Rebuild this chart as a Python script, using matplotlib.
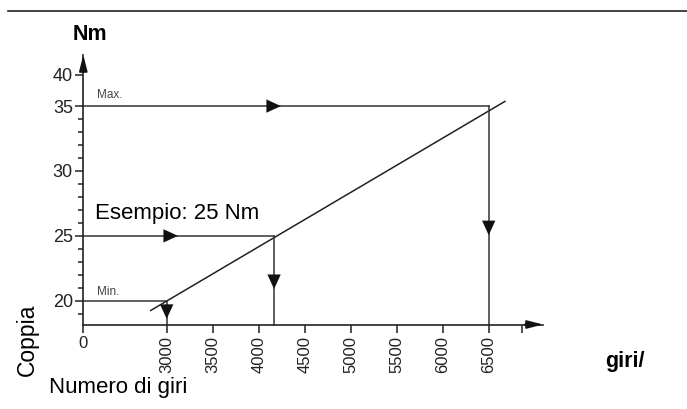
import matplotlib
matplotlib.use("Agg")
import matplotlib.pyplot as plt
import numpy as np
from matplotlib.lines import Line2D

plt.rcParams['font.family'] = ['Liberation Sans', 'DejaVu Sans']

# data
rpm_ticks = [0, 3000, 3500, 4000, 4500, 5000, 5500, 6000, 6500]
rpm_labels = [str(v) for v in rpm_ticks]
extra_tick = 6860
torque_ticks = [20, 25, 30, 35, 40]
torque_minor = [19, 21, 22, 23, 24, 26, 27, 28, 29, 31, 32, 33, 34]

curve_rpm = [2826, 6677]
curve_nm = [19.25, 35.76]

cases = ["Min.", "Esempio", "Max."]
case_nm = [20, 25, 35]
case_rpm = [3000, 4167, 6500]
# where the arrowheads sit on each guide (None = no arrow)
h_arrow_rpm = [None, 3123, 4242]
v_arrow_nm = [18.6, 20.9, 25.05]

W, H = 687, 409
XB, KX = 2800, 0.2523   # x axis is squeezed below XB
YB, KY = 35, 0.48       # y axis is squeezed above YB


def fx(v):
    v = np.asarray(v, float)
    return np.where(v >= XB, v, XB - (XB - v) * KX)


def fx_inv(d):
    d = np.asarray(d, float)
    return np.where(d >= XB, d, XB - (XB - d) / KX)


def fy(v):
    v = np.asarray(v, float)
    return np.where(v <= YB, v, YB + (v - YB) * KY)


def fy_inv(d):
    d = np.asarray(d, float)
    return np.where(d <= YB, d, YB + (d - YB) / KY)


def px(x, y):
    return x / W, 1 - y / H


fig = plt.figure(figsize=(W / 100, H / 100), dpi=100)
left, top, right, bottom = 83.3, 55, 543, 324.5
ax = fig.add_axes([left / W, 1 - bottom / H, (right - left) / W, (bottom - top) / H])
ax.set_xscale('function', functions=(fx, fx_inv))
ax.set_yscale('function', functions=(fy, fy_inv))
ax.set_xlim(0, 7090)
ax.set_ylim(18.17, 43.2)

for s in ['top', 'right']:
    ax.spines[s].set_visible(False)
for s in ['left', 'bottom']:
    ax.spines[s].set_linewidth(1.2)
    ax.spines[s].set_color('#222222')

ax.set_xticks(rpm_ticks + [extra_tick])
ax.set_xticklabels(rpm_labels + [''], fontsize=12)
for lab in ax.get_xticklabels()[1:]:
    lab.set_rotation(90)
ax.xaxis.set_minor_locator(matplotlib.ticker.NullLocator())
ax.set_yticks(torque_ticks)
ax.set_yticklabels([str(v) for v in torque_ticks], fontsize=13)
ax.set_yticks(torque_minor, minor=True)
ax.tick_params(axis='x', which='major', length=6, width=1.1, pad=2, colors='#222222')
ax.tick_params(axis='y', which='major', length=5.5, width=1.1, pad=2, colors='#222222')
ax.tick_params(axis='y', which='minor', length=3.5, width=1.1, color='#222222')

# axis arrows
head = dict(arrowstyle='-|>,head_length=0.7,head_width=0.18', color='#111111',
            lw=1.2, mutation_scale=14, shrinkA=0, shrinkB=0)
ax.annotate('', xy=(1, 0), xycoords='axes fraction', xytext=(0.96, 0), arrowprops=head)
ax.annotate('', xy=(0, 1), xycoords='axes fraction', xytext=(0, 0.94), arrowprops=head)

# characteristic line
ax.plot(curve_rpm, curve_nm, color='#222222', lw=1.1, clip_on=False)

line_kw = dict(color='#333333', lw=1.1, clip_on=False)
arr = dict(arrowstyle='-|>,head_length=0.7,head_width=0.32', color='#111111',
           lw=0, mutation_scale=15, shrinkA=0, shrinkB=0)
y0 = ax.get_ylim()[0]
for name, nm, rpm, ha, va in zip(cases, case_nm, case_rpm, h_arrow_rpm, v_arrow_nm):
    ax.plot([0, rpm], [nm, nm], **line_kw)
    ax.plot([rpm, rpm], [nm, y0], **line_kw)
    if ha is not None:
        ax.annotate('', xy=(ha, nm), xytext=(ha - 200, nm), arrowprops=arr)
    ax.annotate('', xy=(rpm, va), xytext=(rpm, va + 1.5), arrowprops=arr)

# labels
fig.add_artist(Line2D([8 / W, 1], [1 - 11 / H, 1 - 11 / H], color='#222222', lw=1.2))
fig.text(*px(90, 40.5), 'Nm', fontsize=15.5, fontweight='bold', ha='center', va='baseline')
fig.text(*px(97, 98.5), 'Max.', fontsize=8.5, color='#444444', ha='left', va='baseline')
fig.text(*px(97, 295), 'Min.', fontsize=8.5, color='#444444', ha='left', va='baseline')
fig.text(*px(95, 219.5), 'Esempio: 25 Nm', fontsize=16, ha='left', va='baseline')
fig.text(*px(27, 340), 'Coppia', fontsize=16.5, rotation=90, ha='center', va='center')
fig.text(*px(49, 393), 'Numero di giri', fontsize=16, ha='left', va='baseline')
fig.text(*px(625, 367), 'giri/', fontsize=15.5, fontweight='bold', ha='center', va='baseline')

fig.savefig('out.png', dpi=100)
